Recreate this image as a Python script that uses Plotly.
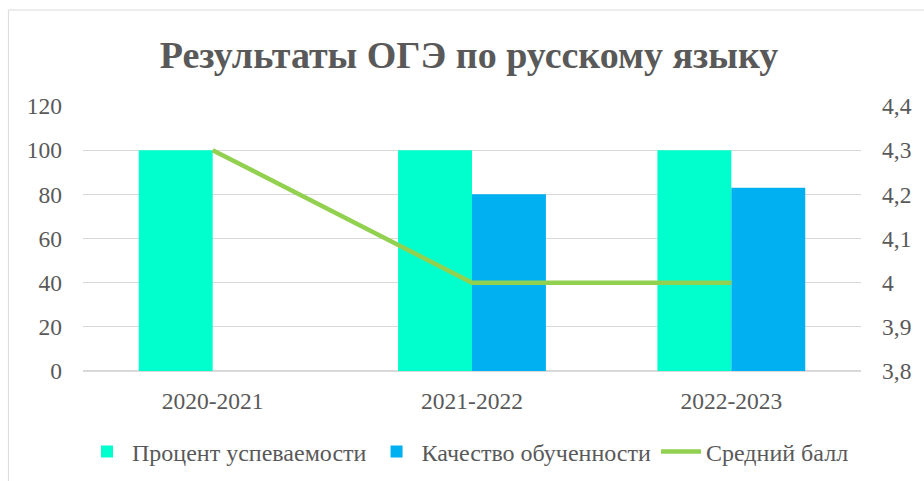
import plotly.graph_objects as go

categories = ["2020-2021", "2021-2022", "2022-2023"]
uspevaemost = [100, 100, 100]
kachestvo = [None, 80, 83]
sredniy_ball = [4.3, 4.0, 4.0]
left_ticks = [0, 20, 40, 60, 80, 100, 120]
right_ticks = [3.8, 3.9, 4.0, 4.1, 4.2, 4.3, 4.4]
right_tick_text = ["3,8", "3,9", "4", "4,1", "4,2", "4,3", "4,4"]

W, H = 924, 481
ml, mr, mt, mb = 83, 59, 106, 110
font_family = "Liberation Serif, Times New Roman, serif"
grey = "#595959"
fs = 23.5

fig = go.Figure()
fig.add_trace(go.Bar(x=categories, y=uspevaemost, name="Процент успеваемости",
                     marker=dict(color="#00FFCC", line=dict(width=0))))
fig.add_trace(go.Bar(x=categories, y=kachestvo, name="Качество обученности",
                     marker=dict(color="#00B0F0", line=dict(width=0))))
fig.add_trace(go.Scatter(x=categories, y=sredniy_ball, name="Средний балл", yaxis="y2",
                         mode="lines", line=dict(color="#92D050", width=4.5)))

pw = W - ml - mr
ph = H - mt - mb
fig.add_shape(type="rect", xref="paper", yref="paper",
              x0=(8 - ml) / pw, x1=(W + 5 - ml) / pw,
              y0=(H - mb - (H + 5)) / ph, y1=(H - mb - 10) / ph,
              line=dict(color="#D9D9D9", width=1), fillcolor="rgba(0,0,0,0)", layer="below")

fig.update_layout(
    width=W, height=H,
    margin=dict(l=ml, r=mr, t=mt, b=mb),
    paper_bgcolor="white", plot_bgcolor="white",
    barmode="group", bargap=0.43, bargroupgap=0,
    font=dict(family=font_family, size=fs, color=grey),
    title=dict(text="<b>Результаты ОГЭ по русскому языку</b>", x=469 / W, xref="container",
               xanchor="center", y=1 - 55 / H, yanchor="middle",
               font=dict(family=font_family, size=38, color=grey)),
    xaxis=dict(showgrid=False, showline=False, ticks="", ticklabelstandoff=13,
               tickfont=dict(size=fs, color=grey)),
    yaxis=dict(range=[0, 120], tickvals=left_ticks, showgrid=True, gridcolor="#D9D9D9",
               gridwidth=1, zeroline=True, zerolinecolor="#D9D9D9", showline=False,
               ticks="", ticklabelstandoff=20, tickfont=dict(size=fs, color=grey)),
    yaxis2=dict(range=[3.8, 4.4], tickvals=right_ticks, ticktext=right_tick_text,
                overlaying="y", side="right", showgrid=False, zeroline=False,
                showline=False, ticks="", ticklabelstandoff=20,
                tickfont=dict(size=fs, color=grey)),
    legend=dict(orientation="h", x=468 / W, xanchor="center", xref="container",
                y=1 - 452 / H, yref="container", yanchor="middle",
                font=dict(size=24, color=grey), itemwidth=40, tracegroupgap=0),
)

fig.write_html("out.html", config={"displayModeBar": False},
               post_script="document.body.style.margin='0';")
